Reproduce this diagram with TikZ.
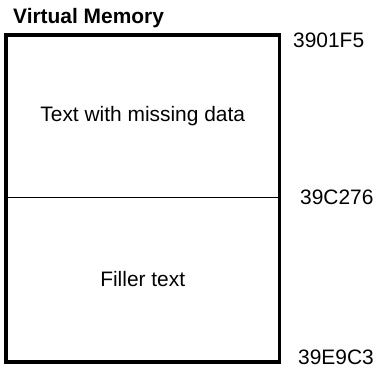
\documentclass[tikz,border=0pt]{standalone}
\usepackage{fontspec}
\setmainfont{Liberation Sans}
\usepackage{tikz}

\begin{document}
\begin{tikzpicture}[x=1bp,y=-1bp]
\tikzstyle{every node}+=[inner sep=0pt, font=\fontsize{21}{25}\selectfont]
\tikzstyle{region}=[minimum width=273.5bp]
\useasboundingbox (0,0) rectangle (377,368);
\node (upper) [region, minimum height=162bp] at (142.75,116) {Text with missing data};
\node (lower) [region, minimum height=165bp] at (142.75,279.5) {Filler text};
\draw [black, line width=3.5bp] (upper.north west) rectangle (lower.south east);
\draw [black, line width=1bp] (upper.south west) -- (upper.south east);
\node (title) [anchor=base west, font=\fontsize{21}{25}\selectfont\bfseries] at (13,23) {Virtual Memory};
\node (addrtop) [anchor=base west] at (293,47) {3901F5};
\node (addrmid) [anchor=base west] at (300,204) {39C276};
\node (addrend) [anchor=base west] at (298,364) {39E9C3};
\end{tikzpicture}
\end{document}
